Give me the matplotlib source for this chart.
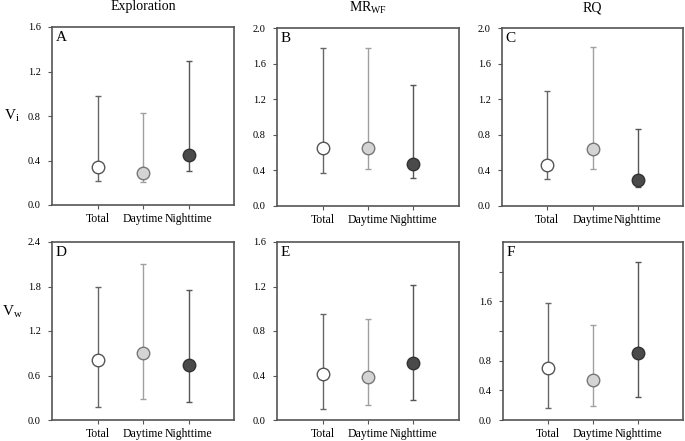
import matplotlib
matplotlib.use("Agg")
import matplotlib.pyplot as plt
from matplotlib.ticker import MultipleLocator, FixedLocator, FormatStrFormatter

plt.rcParams['font.family'] = ['Liberation Serif', 'DejaVu Serif']

categories = ["Total", "Daytime", "Nighttime"]
titles = ["Exploration", r"MR$_{\mathregular{WF}}$", "RQ"]
row_labels = [r"V$_{\mathregular{i}}$", r"V$_{\mathregular{w}}$"]
letters = ["A", "B", "C", "D", "E", "F"]

# mean, lower, upper per panel (Total, Daytime, Nighttime)
A_mean = [0.34, 0.285, 0.447]
A_low = [0.22, 0.207, 0.31]
A_up = [0.98, 0.826, 1.29]

B_mean = [0.647, 0.647, 0.47]
B_low = [0.372, 0.414, 0.32]
B_up = [1.775, 1.775, 1.357]

C_mean = [0.465, 0.638, 0.293]
C_low = [0.30, 0.42, 0.218]
C_up = [1.29, 1.79, 0.863]

D_mean = [0.81, 0.90, 0.746]
D_low = [0.18, 0.28, 0.247]
D_up = [1.80, 2.10, 1.757]

E_mean = [0.41, 0.384, 0.516]
E_low = [0.10, 0.132, 0.177]
E_up = [0.957, 0.91, 1.213]

F_mean = [0.70, 0.54, 0.909]
F_low = [0.159, 0.186, 0.309]
F_up = [1.577, 1.28, 2.136]

ylims = [1.6, 2.0, 2.0, 2.4, 1.6, 2.4]
ysteps = [0.4, 0.4, 0.4, 0.6, 0.4, 0.4]
F_ticks = [0.0, 0.4, 0.8, 1.2, 1.6, 2.0]
F_ticklabels = ["0.0", "0.4", "0.8", "", "1.6", ""]

face_colors = ["white", "#d4d4d4", "#4a4a4a"]
edge_colors = ["#555555", "#777777", "#333333"]
bar_colors = ["#666666", "#a0a0a0", "#555555"]

W, H = 685, 441
fig = plt.figure(figsize=(W / 100, H / 100), dpi=100)

boxes = [
    (52, 234, 27, 205), (277, 459, 28, 206), (502, 683, 28, 206),
    (52, 234, 242, 420), (277, 459, 242, 420), (503, 683, 242, 420),
]
data = [
    (A_mean, A_low, A_up), (B_mean, B_low, B_up), (C_mean, C_low, C_up),
    (D_mean, D_low, D_up), (E_mean, E_low, E_up), (F_mean, F_low, F_up),
]

x = [1, 2, 3]
for i, ((l, r, t, b), (m, lo, up)) in enumerate(zip(boxes, data)):
    ax = fig.add_axes([l / W, 1 - b / H, (r - l) / W, (b - t) / H])
    for j in range(3):
        ax.errorbar([x[j]], [m[j]],
                    yerr=[[m[j] - lo[j]], [up[j] - m[j]]],
                    fmt='none', ecolor=bar_colors[j], elinewidth=1.0,
                    capsize=2.5, capthick=1.0, zorder=2)
        ax.plot([x[j]], [m[j]], 'o', markersize=9,
                markerfacecolor=face_colors[j], markeredgecolor=edge_colors[j],
                markeredgewidth=1.0, zorder=3)
    ax.set_xlim(0, 4)
    ax.set_ylim(0, ylims[i])
    ax.set_xticks(x)
    ax.set_xticklabels(categories, fontsize=8.5)
    if i == 5:
        ax.yaxis.set_major_locator(FixedLocator(F_ticks))
        ax.set_yticklabels(F_ticklabels)
    else:
        ax.yaxis.set_major_locator(MultipleLocator(ysteps[i]))
        ax.yaxis.set_major_formatter(FormatStrFormatter('%.1f'))
    ax.tick_params(axis='y', labelsize=7.5, direction='out', length=3,
                   color='#555555', pad=5)
    ax.tick_params(axis='x', direction='out', length=3, color='#555555', pad=3)
    for s in ax.spines.values():
        s.set_color('#555555')
        s.set_linewidth(1.2)
    ax.text(0.02, 0.975, letters[i], transform=ax.transAxes, fontsize=11,
            va='top', ha='left')
    if i < 3:
        ax.set_title(titles[i], fontsize=10, pad=12)

fig.text(12 / W, 1 - 116 / H, row_labels[0], fontsize=11, ha='center', va='center')
fig.text(12 / W, 1 - 312 / H, row_labels[1], fontsize=11, ha='center', va='center')

fig.savefig("out.png", dpi=100)
